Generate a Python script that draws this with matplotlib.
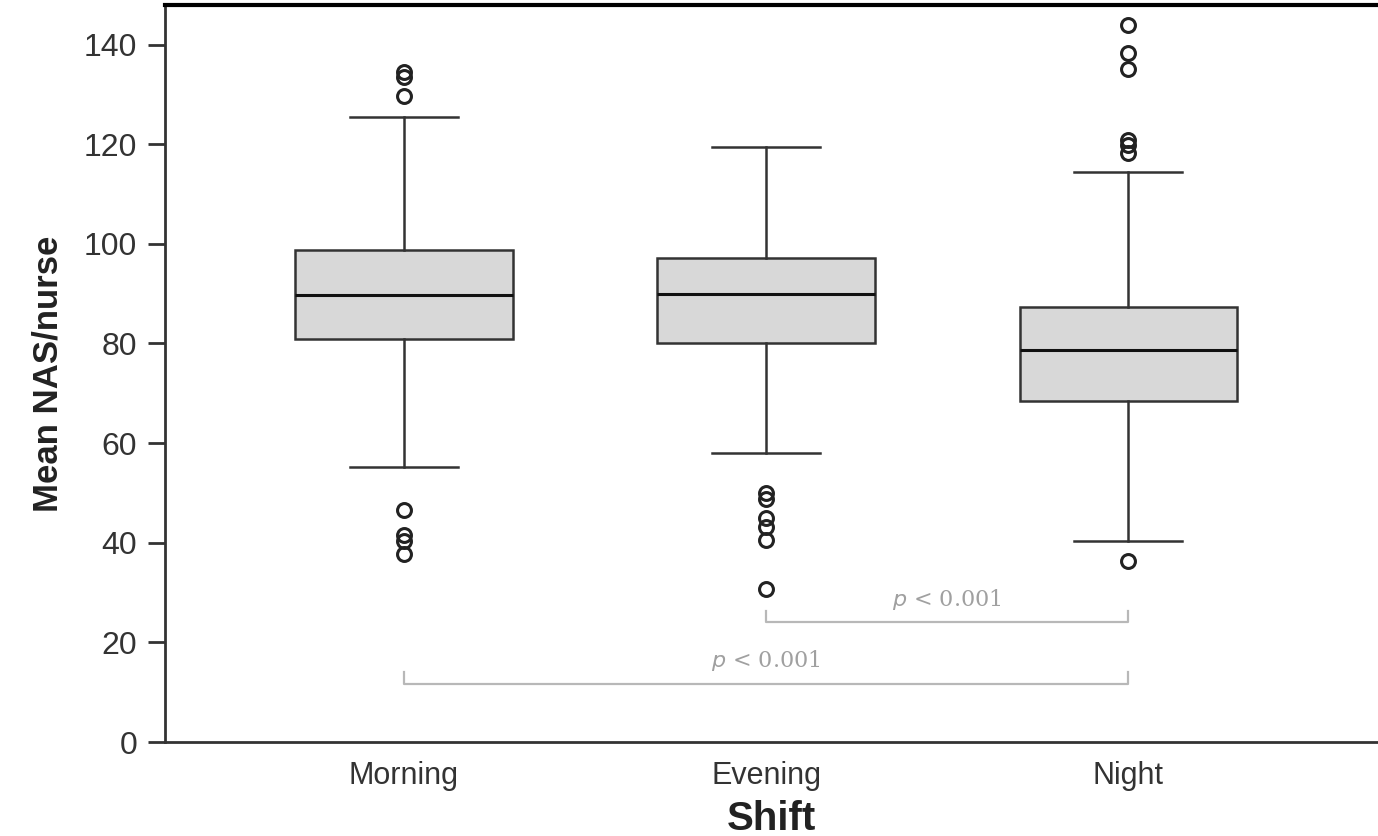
#!/usr/bin/env python3

import matplotlib
matplotlib.use("Agg")
import matplotlib.pyplot as plt

shifts = ["Morning", "Evening", "Night"]
whisker_low = [55.2, 58.0, 40.4]
q1 = [80.9, 80.1, 68.5]
median = [89.8, 90.0, 78.7]
q3 = [98.8, 97.2, 87.3]
whisker_high = [125.5, 119.5, 114.5]
outliers = [
    [134.5, 133.5, 129.7, 46.6, 41.5, 40.4, 37.8],
    [50.0, 48.8, 45.0, 43.2, 40.6, 30.7],
    [144.0, 138.4, 135.1, 120.9, 119.9, 118.3, 36.3],
]

# significance brackets: (from, to, height, label)
brackets = [(2, 3, 24.0, "p < 0.001"), (1, 3, 11.7, "p < 0.001")]

plt.rcParams["font.family"] = ["Liberation Sans", "DejaVu Sans"]

fig = plt.figure(figsize=(13.78, 8.36), dpi=100)
ax = fig.add_axes([0.1197, 0.1124, 0.8803, 0.882])

stats = []
for i, name in enumerate(shifts):
    stats.append({
        "label": name,
        "whislo": whisker_low[i],
        "q1": q1[i],
        "med": median[i],
        "q3": q3[i],
        "whishi": whisker_high[i],
        "fliers": outliers[i],
    })

line_col = "#333333"
ax.bxp(stats, positions=[1, 2, 3], widths=0.6, patch_artist=True,
       boxprops=dict(facecolor="#d8d8d8", edgecolor=line_col, linewidth=1.8),
       medianprops=dict(color="#111111", linewidth=2.2),
       whiskerprops=dict(color=line_col, linewidth=1.8),
       capprops=dict(color=line_col, linewidth=1.8),
       flierprops=dict(marker="o", markerfacecolor="none", markeredgecolor="#222222",
                       markersize=10, markeredgewidth=2.2))

for x0, x1, h, label in brackets:
    ax.plot([x0, x0, x1, x1], [h + 2.4, h, h, h + 2.4], color="#b8b8b8", linewidth=1.6)
    ax.text((x0 + x1) / 2, h + 2.2, r"$\it{p}$ < 0.001", ha="center", va="bottom",
            color="#a0a0a0", fontsize=16, family="DejaVu Serif")

ax.set_xlim(0.34, 3.69)
ax.set_ylim(0, 148)
ax.set_yticks(range(0, 141, 20))
ax.set_xticks([1, 2, 3])
ax.set_xticklabels(shifts)
ax.tick_params(axis="y", labelsize=23, length=12, width=2, colors="#333333", pad=8)
ax.tick_params(axis="x", labelsize=22, length=0, colors="#333333", pad=14)

ax.spines["right"].set_visible(False)
ax.spines["left"].set_linewidth(2)
ax.spines["left"].set_color("#333333")
ax.spines["bottom"].set_linewidth(2)
ax.spines["bottom"].set_color("#333333")
ax.spines["top"].set_linewidth(3)
ax.spines["top"].set_color("#000000")

ax.set_ylabel("Mean NAS/nurse", fontsize=25, fontweight="bold", color="#222222", labelpad=14)
ax.set_xlabel("Shift", fontsize=29, fontweight="bold", color="#222222", labelpad=6)

fig.savefig("out.png", dpi=100)
